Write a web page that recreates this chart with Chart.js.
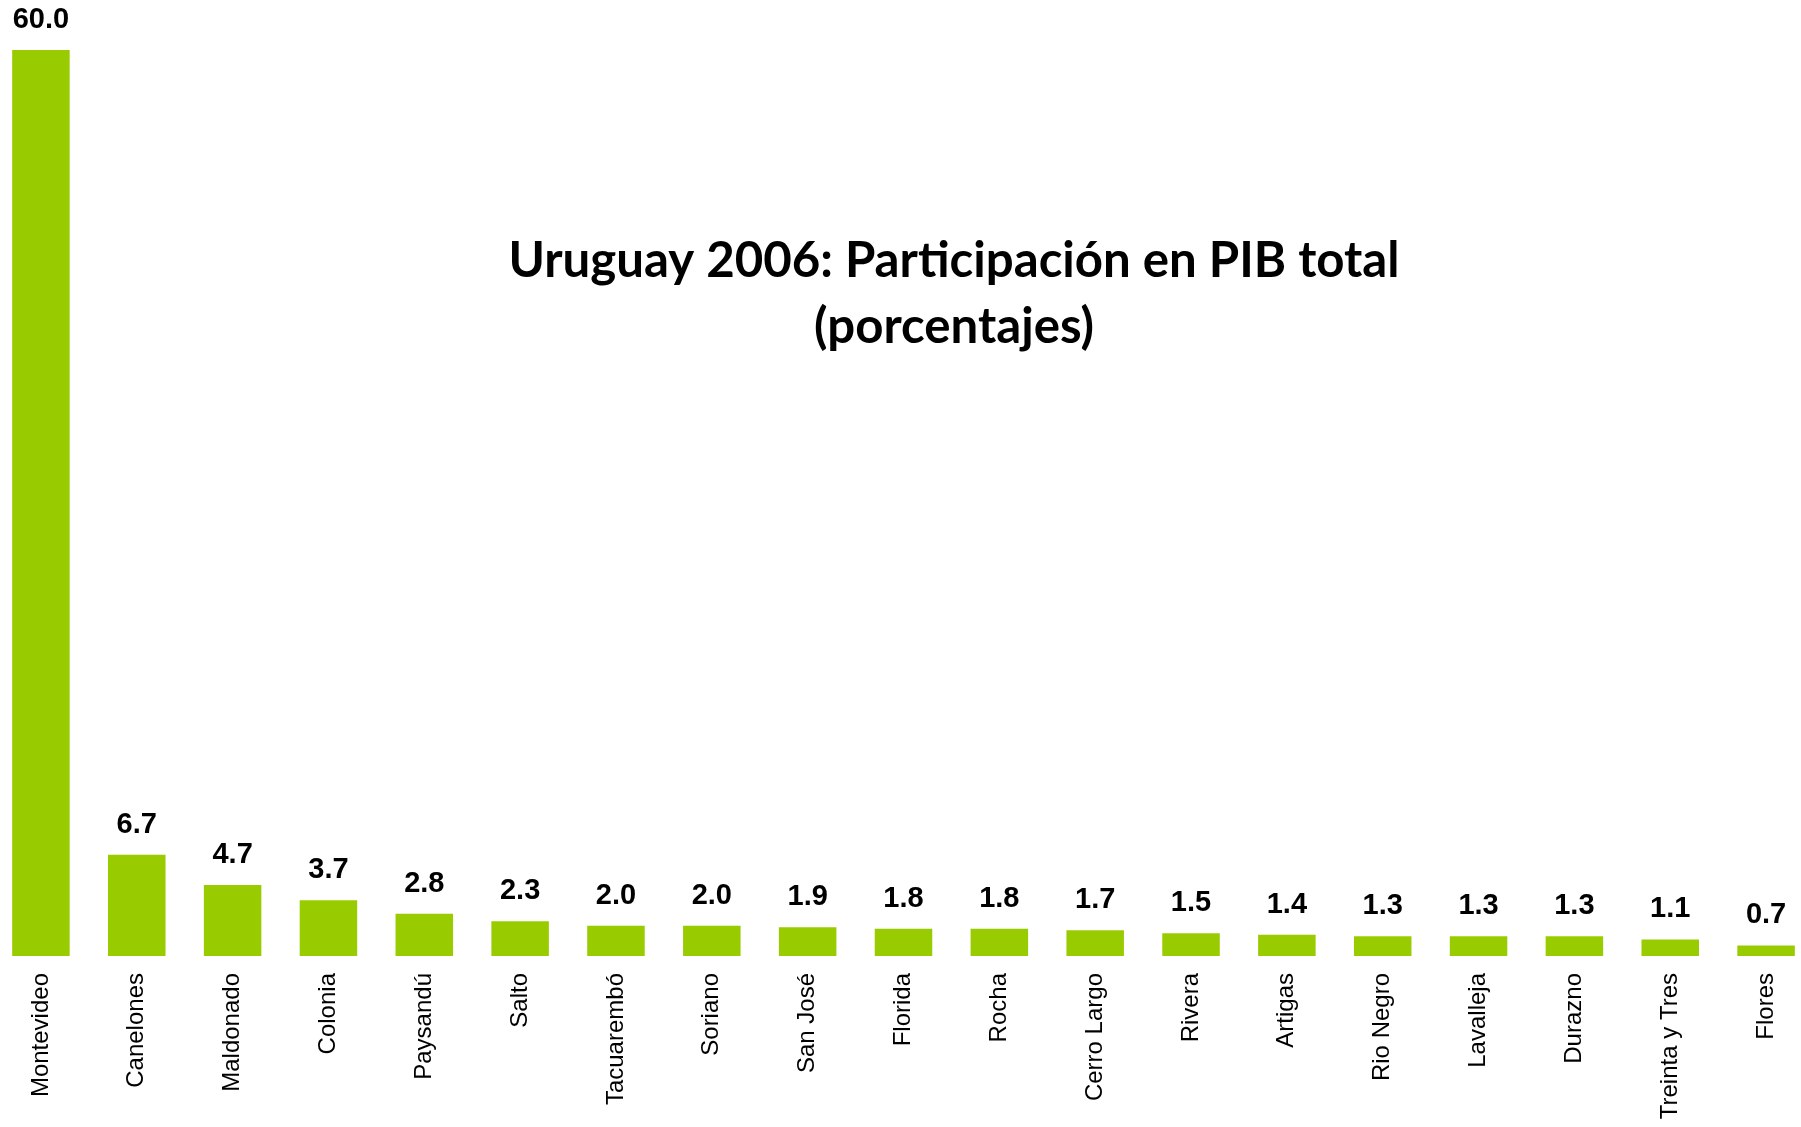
<!DOCTYPE html>
<html>
<head>
<meta charset="utf-8">
<script src="https://cdn.jsdelivr.net/npm/chart.js@4/dist/chart.umd.min.js"></script>
<style>
  html, body { margin: 0; padding: 0; background: #ffffff; overflow: hidden; }
  #wrap { position: absolute; left: -7px; top: 0; width: 1821px; height: 1127px; }
</style>
</head>
<body>
<div id="wrap"><canvas id="c"></canvas></div>
<script>
const departamentos = ["Montevideo","Canelones","Maldonado","Colonia","Paysandú","Salto","Tacuarembó","Soriano","San José","Florida","Rocha","Cerro Largo","Rivera","Artigas","Rio Negro","Lavalleja","Durazno","Treinta y Tres","Flores"];
const participacion = [60.0, 6.7, 4.7, 3.7, 2.8, 2.3, 2.0, 2.0, 1.9, 1.8, 1.8, 1.7, 1.5, 1.4, 1.3, 1.3, 1.3, 1.1, 0.7];
const tituloLineas = ["Uruguay 2006: Participación en PIB total", "(porcentajes)"];

const valueLabels = {
  id: 'valueLabels',
  afterDatasetsDraw(chart) {
    const ctx = chart.ctx;
    const meta = chart.getDatasetMeta(0);
    ctx.save();
    ctx.fillStyle = '#000';
    ctx.font = 'bold 29px "Liberation Sans", Arial, sans-serif';
    ctx.textAlign = 'center';
    ctx.textBaseline = 'alphabetic';
    meta.data.forEach((bar, i) => {
      ctx.fillText(participacion[i].toFixed(1), bar.x, bar.y - 22);
    });
    ctx.restore();
  }
};

const titlePlugin = {
  id: 'centerTitle',
  afterDraw(chart) {
    const ctx = chart.ctx;
    ctx.save();
    const fam = 'Lato, "Open Sans", sans-serif';
    ctx.font = 'bold 100px ' + fam;
    const w = ctx.measureText(tituloLineas[0]).width;
    const size = 100 * 892 / w;
    ctx.font = 'bold ' + size.toFixed(1) + 'px ' + fam;
    ctx.fillStyle = '#000';
    ctx.textAlign = 'center';
    ctx.textBaseline = 'alphabetic';
    const cx = 954 + 7;
    ctx.fillText(tituloLineas[0], cx, 277);
    ctx.fillText(tituloLineas[1], cx, 343);
    ctx.restore();
  }
};

new Chart(document.getElementById('c'), {
  type: 'bar',
  data: {
    labels: departamentos,
    datasets: [{
      data: participacion,
      backgroundColor: '#99cc00',
      borderWidth: 0,
      categoryPercentage: 1.0,
      barPercentage: 0.6
    }]
  },
  options: {
    responsive: true,
    maintainAspectRatio: false,
    animation: false,
    devicePixelRatio: 1,
    layout: { padding: { top: 50, left: 0, right: 0, bottom: 0 } },
    plugins: { legend: { display: false }, tooltip: { enabled: false }, title: { display: false } },
    scales: {
      x: {
        grid: { display: false, drawTicks: false },
        border: { display: false },
        ticks: {
          color: '#000',
          font: { family: '"Liberation Sans", Arial, sans-serif', size: 24 },
          minRotation: 90,
          maxRotation: 90,
          autoSkip: false,
          padding: 17
        },
        afterFit(scale) { scale.height = 171; }
      },
      y: {
        display: false,
        min: 0,
        max: 60
      }
    }
  },
  plugins: [valueLabels, titlePlugin]
});
</script>
</body>
</html>
